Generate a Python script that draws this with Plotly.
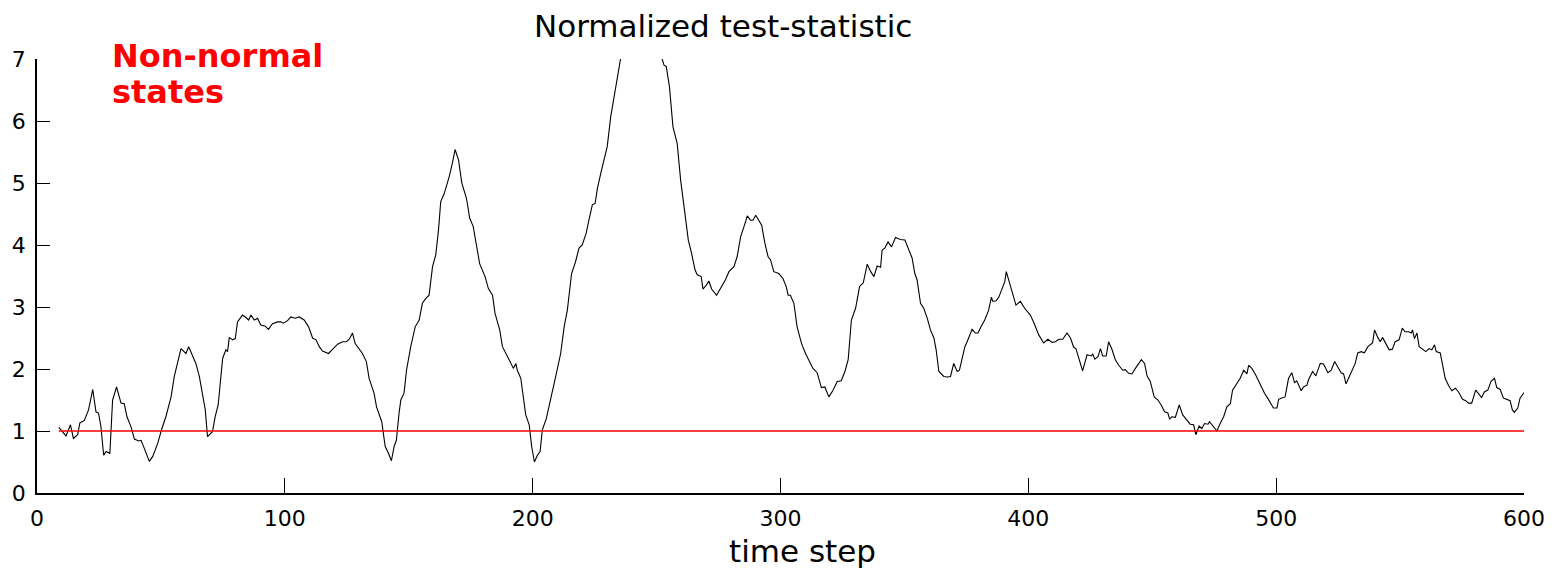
import plotly.graph_objects as go

# time steps and normalized test-statistic values
time_step = [
    8.8, 11.7, 13.5, 14.7, 16.4, 17.3, 19.1, 20.8, 22.5, 23.8, 24.8, 25.8, 26.9, 27.9, 29.4,
    30.5, 32.1, 33.9, 35.2, 36.3, 37.9, 39.3, 41.0, 42.0, 43.3, 44.6, 45.3, 46.7, 48.7,
    50.4, 52.0, 54.1, 55.4, 58.1, 60.1, 61.2, 62.8, 64.1, 65.5, 66.8, 67.9, 68.8, 70.8,
    71.9, 73.1, 74.9, 76.2, 76.9, 77.6, 78.9, 80.0, 80.9, 82.9, 84.3, 85.4, 86.3, 87.7,
    89.0, 90.3, 92.1, 93.4, 95.0, 97.1, 98.4, 99.4, 101.1, 102.4, 104.2, 105.8, 107.8,
    109.6, 111.2, 112.6, 113.9, 115.2, 117.6, 119.2, 121.3, 123.3, 124.9, 126.0, 127.3,
    128.4, 130.0, 131.3, 132.9, 134.0, 136.0, 137.0, 139.1, 140.5, 141.8, 143.0, 144.1,
    145.0, 146.1, 146.8, 148.1, 149.1, 150.8, 152.6, 154.2, 155.5, 156.9, 158.2, 159.6,
    160.9, 162.0, 162.9, 164.3, 166.3, 167.6, 168.7, 170.1, 171.4, 173.3, 174.6, 176.0,
    177.3, 178.6, 180.8, 182.1, 183.8, 184.8, 186.7, 187.8, 190.5, 192.2, 193.2, 193.8,
    195.2, 196.1, 197.2, 198.6, 199.6, 200.7, 201.9, 203.0, 203.9, 205.5, 207.3, 209.3,
    211.3, 212.7, 214.0, 215.7, 217.3, 218.7, 220.0, 221.6, 222.7, 224.1, 225.2, 226.1,
    227.5, 228.8, 230.1, 231.5, 232.8, 234.2, 235.5, 238.0, 241.0, 244.0, 247.0, 250.0,
    252.0, 253.0, 253.9, 255.2, 256.6, 258.3, 259.7, 261.0, 262.8, 264.1, 265.5, 266.4,
    268.0, 268.7, 270.0, 271.1, 272.2, 274.2, 275.8, 277.8, 279.2, 281.2, 282.5, 283.9,
    285.3, 286.6, 287.9, 288.9, 290.0, 291.3, 292.4, 293.7, 295.0, 296.0, 297.3, 299.3,
    301.0, 302.3, 303.1, 304.0, 305.4, 306.7, 308.5, 310.1, 311.7, 313.1, 314.8, 316.5,
    317.9, 319.5, 321.1, 322.9, 324.5, 326.0, 327.3, 328.6, 330.3, 331.9, 333.4, 335.0,
    336.4, 337.7, 339.0, 340.4, 341.0, 342.1, 343.4, 344.8, 346.4, 348.4, 350.2, 351.5,
    353.1, 354.2, 355.1, 356.5, 357.8, 359.2, 360.5, 361.9, 362.8, 363.9, 365.9, 367.2,
    368.6, 369.9, 371.3, 372.2, 373.3, 374.4, 375.3, 377.3, 378.6, 379.7, 381.0, 382.4,
    384.0, 385.1, 385.7, 387.0, 388.1, 389.4, 390.5, 391.1, 392.1, 393.7, 395.0, 396.8,
    398.5, 400.8, 402.2, 404.2, 406.2, 407.9, 409.6, 410.9, 412.3, 413.9, 415.6, 417.0,
    418.3, 419.2, 420.6, 421.9, 423.7, 425.4, 426.0, 426.8, 428.1, 429.1, 430.0, 431.4,
    432.4, 433.8, 435.1, 436.5, 438.1, 439.1, 440.5, 441.8, 443.2, 444.5, 445.6, 446.9,
    447.9, 449.2, 450.8, 452.3, 453.6, 455.0, 456.3, 457.0, 457.9, 459.3, 460.9, 462.3,
    464.0, 465.3, 466.7, 467.6, 468.9, 470.0, 471.1, 472.5, 473.1, 474.8, 476.1, 477.4,
    478.8, 480.1, 481.5, 482.4, 484.2, 485.5, 486.9, 488.2, 488.9, 490.2, 491.8, 493.6,
    495.3, 496.9, 498.0, 498.9, 500.3, 501.0, 502.0, 503.6, 505.0, 506.3, 507.4, 508.3,
    510.1, 511.0, 512.4, 513.1, 514.7, 516.0, 517.8, 519.1, 520.9, 522.2, 523.6, 524.9,
    526.2, 527.2, 528.2, 529.2, 530.5, 531.9, 532.9, 534.3, 535.6, 537.0, 538.9, 539.7,
    541.0, 542.0, 542.9, 544.2, 545.6, 546.9, 548.0, 549.6, 550.9, 552.0, 553.4, 554.5,
    555.0, 555.8, 556.8, 557.7, 558.8, 560.4, 561.7, 562.8, 563.9, 564.6, 566.2, 567.2,
    568.2, 569.6, 570.9, 572.3, 573.6, 575.2, 576.5, 577.6, 578.9, 580.5, 581.6, 582.9,
    584.0, 585.4, 586.7, 588.1, 589.0, 590.4, 591.7, 593.4, 594.4, 595.3, 596.1, 597.5,
    598.4, 600.0,
]

statistic = [
    1.06, 0.92, 1.10, 0.88, 0.94, 1.13, 1.17, 1.34, 1.67, 1.31, 1.29, 1.07, 0.61, 0.67, 0.64,
    1.50, 1.71, 1.45, 1.44, 1.23, 1.07, 0.87, 0.84, 0.85, 0.72, 0.59, 0.51, 0.59, 0.80,
    1.04, 1.23, 1.55, 1.88, 2.33, 2.25, 2.36, 2.20, 2.09, 1.88, 1.61, 1.34, 0.91, 0.99,
    1.23, 1.42, 2.17, 2.31, 2.28, 2.51, 2.47, 2.49, 2.76, 2.87, 2.83, 2.79, 2.87, 2.79,
    2.82, 2.71, 2.69, 2.64, 2.73, 2.76, 2.76, 2.74, 2.78, 2.84, 2.82, 2.84, 2.79,
    2.68, 2.50, 2.47, 2.36, 2.29, 2.25, 2.31, 2.40, 2.44, 2.44, 2.48, 2.58,
    2.41, 2.32, 2.25, 2.12, 1.85, 1.61, 1.39, 1.15, 0.75, 0.64, 0.52, 0.75,
    0.85, 1.29, 1.50, 1.61, 1.98, 2.36, 2.68, 2.79, 3.06, 3.14, 3.19, 3.65,
    3.84, 4.24, 4.70, 4.83, 5.10, 5.32, 5.54, 5.37, 5.00, 4.75, 4.43, 4.30,
    4.00, 3.70, 3.49, 3.30, 3.19, 2.90, 2.63, 2.36, 2.15, 2.01, 2.09, 1.98,
    1.85, 1.55, 1.26, 1.10, 0.75, 0.50, 0.61, 0.67, 1.02, 1.20, 1.50, 1.88,
    2.25, 2.68, 2.95, 3.54, 3.73, 3.95, 4.00, 4.19, 4.40, 4.65, 4.67, 4.91,
    5.16, 5.37, 5.59, 6.07, 6.37, 6.71, 7.01, 7.40, 7.70, 7.80, 7.60, 7.30,
    7.01, 6.90, 6.88, 6.55, 5.91, 5.64, 5.05, 4.62, 4.08, 3.87, 3.60, 3.52,
    3.49, 3.29, 3.35, 3.42, 3.29, 3.19, 3.30, 3.44, 3.57, 3.65, 3.81, 4.13,
    4.30, 4.47, 4.40, 4.40, 4.48, 4.38, 4.32, 4.03, 3.81, 3.76, 3.57, 3.54,
    3.46, 3.33, 3.19, 3.19, 3.06, 2.68, 2.41, 2.25, 2.12, 2.01, 1.94, 1.70,
    1.71, 1.55, 1.65, 1.80, 1.81, 1.96, 2.15, 2.79, 2.98, 3.33, 3.39, 3.69,
    3.57, 3.49, 3.66, 3.64, 3.92, 3.95, 4.05, 3.97, 4.12, 4.09, 4.08, 3.95,
    3.79, 3.54, 3.44, 3.06, 2.98, 2.82, 2.63, 2.50, 2.31, 1.96, 1.88, 1.87,
    1.88, 2.09, 1.96, 1.98, 2.17, 2.36, 2.44, 2.64, 2.58, 2.58, 2.69, 2.79,
    2.95, 3.16, 3.09, 3.10, 3.16, 3.30, 3.41, 3.57, 3.44, 3.22, 3.03, 3.09,
    2.98, 2.87, 2.75, 2.55, 2.42, 2.48, 2.43, 2.44, 2.48, 2.48, 2.58, 2.50,
    2.35, 2.33, 2.12, 1.97, 2.23, 2.21, 2.24, 2.16, 2.20, 2.33, 2.21, 2.21,
    2.44, 2.31, 2.15, 2.06, 1.98, 1.99, 1.93, 1.92, 2.01, 2.09, 2.15, 2.09,
    1.89, 1.80, 1.55, 1.50, 1.42, 1.31, 1.29, 1.19, 1.23, 1.22, 1.42, 1.26,
    1.17, 1.11, 1.10, 0.94, 1.08, 1.04, 1.12, 1.11, 1.15, 1.07, 1.00, 1.12,
    1.23, 1.39, 1.44, 1.66, 1.78, 1.85, 1.98, 1.92, 2.06, 2.01, 1.90, 1.74,
    1.61, 1.51, 1.42, 1.37, 1.37, 1.51, 1.53, 1.55, 1.85, 1.94, 1.78, 1.81,
    1.65, 1.71, 1.74, 1.83, 1.96, 1.89, 2.09, 2.08, 1.94, 1.98, 2.12, 2.04,
    1.94, 1.92, 1.76, 1.85, 1.98, 2.09, 2.26, 2.28, 2.26, 2.36, 2.42, 2.63,
    2.51, 2.44, 2.51, 2.41, 2.31, 2.32, 2.44, 2.47, 2.66, 2.60, 2.60, 2.58,
    2.63, 2.49, 2.58, 2.36, 2.33, 2.28, 2.33, 2.31, 2.39, 2.28, 2.26, 2.04,
    1.85, 1.73, 1.65, 1.69, 1.63, 1.51, 1.49, 1.45, 1.45, 1.66, 1.61, 1.54,
    1.63, 1.66, 1.80, 1.85, 1.70, 1.67, 1.53, 1.50, 1.49, 1.34, 1.30, 1.37,
    1.53, 1.62,
]

threshold_x = [8.8, 600]
threshold_y = [1, 1]

x_ticks = [0, 100, 200, 300, 400, 500, 600]
y_ticks = [0, 1, 2, 3, 4, 5, 6, 7]

FONT = "DejaVu Sans"

fig = go.Figure()
fig.add_trace(go.Scatter(x=time_step, y=statistic, mode="lines",
                         line=dict(color="black", width=1.1), showlegend=False))
fig.add_trace(go.Scatter(x=threshold_x, y=threshold_y, mode="lines",
                         line=dict(color="#ff0000", width=1.5), showlegend=False))

fig.update_layout(
    width=1560, height=570,
    margin=dict(l=34, r=36, t=59, b=77),
    plot_bgcolor="white", paper_bgcolor="white",
    font=dict(family=FONT, color="black"),
    xaxis=dict(range=[0, 600], tickvals=x_ticks, ticks="inside", ticklen=15,
               tickwidth=1, tickcolor="black", showline=True, linecolor="black",
               linewidth=1.5, showgrid=False, zeroline=False,
               tickfont=dict(family=FONT, size=22, color="black"),
               ticklabelstandoff=5),
    yaxis=dict(range=[0, 7], tickvals=y_ticks, ticks="inside", ticklen=13,
               tickwidth=1, tickcolor="black", showline=True, linecolor="black",
               linewidth=1.5, showgrid=False, zeroline=False,
               tickfont=dict(family=FONT, size=22, color="black"),
               ticklabelstandoff=5),
    annotations=[
        dict(text="Normalized test-statistic", xref="paper", yref="paper",
             x=(721 - 34) / 1490, y=(493 - 26) / 434, xanchor="center", yanchor="middle",
             showarrow=False, font=dict(family=FONT, size=31, color="black")),
        dict(text="time step", xref="paper", yref="paper",
             x=(801 - 34) / 1490, y=(493 - 551) / 434, xanchor="center", yanchor="middle",
             showarrow=False, font=dict(family=FONT, size=31, color="black")),
        dict(text="<b>Non-normal</b>", xref="paper", yref="paper",
             x=(107 - 34) / 1490, y=(493 - 56) / 434, xanchor="left", yanchor="middle",
             showarrow=False, font=dict(family=FONT, size=32, color="#ff0000")),
        dict(text="<b>states</b>", xref="paper", yref="paper",
             x=(107 - 34) / 1490, y=(493 - 92) / 434, xanchor="left", yanchor="middle",
             showarrow=False, font=dict(family=FONT, size=32, color="#ff0000")),
    ],
)

fig.write_html("out.html")
